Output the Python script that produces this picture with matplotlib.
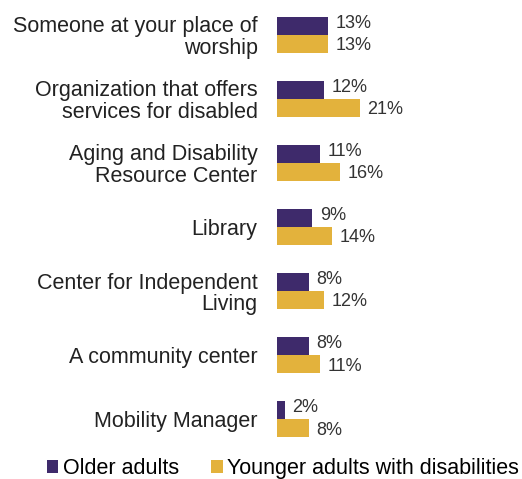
import matplotlib.pyplot as plt
import numpy as np

plt.rcParams['font.family'] = ['Liberation Sans', 'DejaVu Sans']

categories = [
    'Someone at your place of\nworship',
    'Organization that offers\nservices for disabled',
    'Aging and Disability\nResource Center',
    'Library',
    'Center for Independent\nLiving',
    'A community center',
    'Mobility Manager',
]
older = [13, 12, 11, 9, 8, 8, 2]
younger = [13, 21, 16, 14, 12, 11, 8]
series_names = ['Older adults', 'Younger adults with disabilities']

purple = '#3e2a6b'
gold = '#e3b23c'

fig = plt.figure(figsize=(5.22, 4.79), dpi=100)
ax = fig.add_axes([277 / 522, 0.058, 1 - 277 / 522, 0.936])

y = np.arange(len(categories))
h = 0.28
b1 = ax.barh(y - h / 2, older, height=h, color=purple, label=series_names[0])
b2 = ax.barh(y + h / 2, younger, height=h, color=gold, label=series_names[1])

for bars, vals, dy in ((b1, older, -0.04), (b2, younger, 0.03)):
    for bar, v in zip(bars, vals):
        ax.text(bar.get_width() + 1.9, bar.get_y() + bar.get_height() / 2 + dy,
                f'{v}%', va='center', ha='left', fontsize=13, color='#333333')

ax.set_xlim(0, 62.2)
ax.set_ylim(6.5, -0.5)
ax.set_yticks(y)
ax.set_yticklabels(categories, fontsize=15.5, color='#222222', linespacing=1.05)
ax.tick_params(axis='y', length=0, pad=14)
ax.set_xticks([])
for s in ax.spines.values():
    s.set_visible(False)

fig.legend(handles=[b1, b2], labels=series_names, loc='lower center',
           bbox_to_anchor=(0.542, -0.04), ncol=2, frameon=False,
           fontsize=15.5, handlelength=0.55, handleheight=0.55,
           handletextpad=0.2, columnspacing=1.5)

fig.savefig('out.png', dpi=100)
